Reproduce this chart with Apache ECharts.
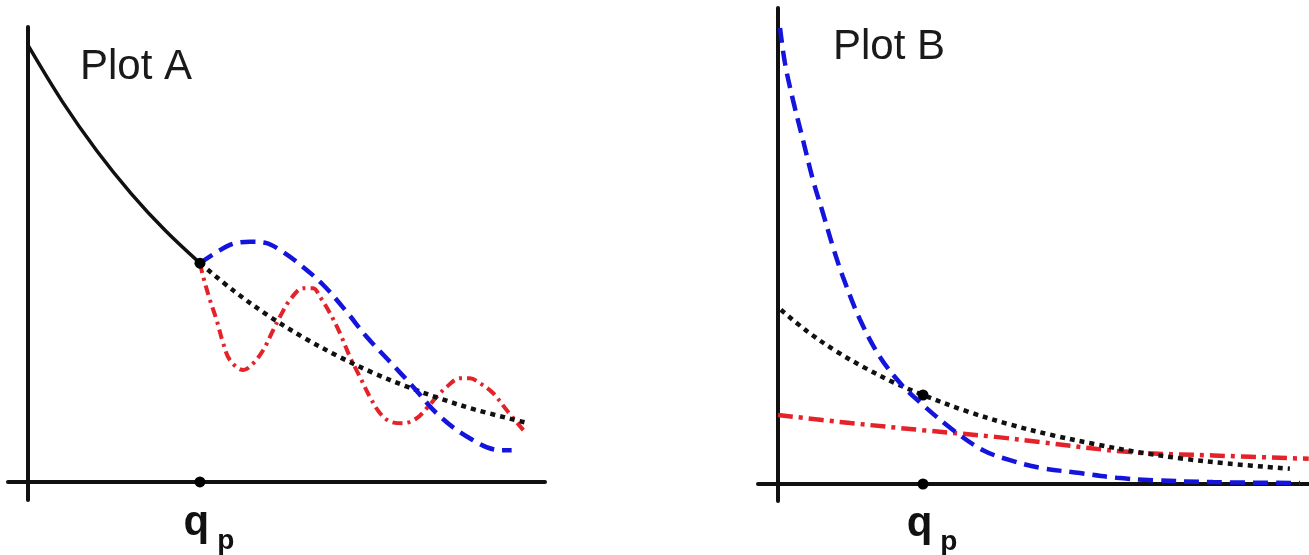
<!DOCTYPE html>
<html>
<head>
<meta charset="utf-8">
<script src="https://cdn.jsdelivr.net/npm/echarts@6/dist/echarts.min.js"></script>
<style>
  html, body { margin: 0; padding: 0; background: #fff; }
  #chart { width: 1309px; height: 555px; }
</style>
</head>
<body>
<div id="chart"></div>
<script>
// Plot A (x in units where q_p = 10)
const qp = 10;
const aSolid = [[0, 96], [2, 83.6], [4, 72.8], [6, 63.4], [8, 55.2], [10, 48.1]];
const aDotted = [[10, 48.1], [12, 41.9], [14, 36.5], [16, 31.8], [18, 27.7], [20, 24.1], [22, 21.0], [24, 18.3], [26, 15.9], [29, 13.0]];
const aBlue = [[10, 48.1], [11.74, 52.1], [12.91, 52.8], [13.88, 52.5], [14.65, 51.0], [15.62, 48.4], [17.17, 43.3],
  [18.53, 37.4], [19.69, 31.9], [21.05, 26.4], [22.4, 20.9], [23.76, 15.1], [25.51, 10.0], [27.44, 7.0], [28.12, 7.0]];
const aRed = [[10, 48.1], [10.19, 45.1], [10.58, 40.0], [10.97, 35.6], [11.35, 30.5], [11.74, 26.8], [12.52, 24.6],
  [13.1, 26.1], [13.68, 29.0], [14.26, 33.4], [14.65, 36.3], [15.23, 40.0], [16.01, 42.6], [16.59, 42.6], [16.98, 40.7],
  [17.56, 37.1], [18.14, 32.7], [18.72, 27.5], [19.3, 23.1], [19.88, 18.7], [20.47, 15.1], [21.05, 13.3], [21.82, 12.9],
  [22.6, 14.0], [23.18, 16.2], [23.76, 18.7], [24.34, 20.9], [25.12, 22.8], [25.7, 22.8], [26.28, 21.7], [27.05, 19.5],
  [27.83, 15.8], [28.8, 11.4]];
const aPoint = [10, 48.1];

// Plot B
const bBlue = [[0.14, 95.8], [0.48, 88.4], [1.03, 80.7], [1.72, 72.3], [2.41, 63.9], [3.1, 56.9], [3.79, 49.8],
  [4.48, 43.5], [5.66, 34.5], [7.03, 26.7], [8.6, 20.6], [10, 16.6], [12, 11.5], [14.14, 7.1], [16, 5.0], [18.07, 3.4],
  [20.83, 2.3], [23.38, 1.3], [25.86, 0.8], [30, 0.4], [36, 0.2]];
const bDotted = [[0.2, 36.6], [2, 32.1], [4, 27.9], [6, 24.4], [8, 21.3], [10, 18.7], [13, 15.3], [16, 12.5], [19, 10.2],
  [22, 8.3], [25, 6.6], [28, 5.3], [31, 4.3], [35.3, 3.2]];
const bRed = [[0, 14.5], [5, 12.8], [10, 11.3], [15, 9.9], [18.07, 8.8], [24.3, 6.7], [30, 6.0], [36.6, 5.3]];
const bPoint = [10, 18.7];

const BLACK = '#111111';
const BLUE = '#1414dc';
const RED = '#e4222a';

const chart = echarts.init(document.getElementById('chart'));

function axisPair(idx, xMin, xMax, yMin) {
  return {
    x: {
      type: 'value', gridIndex: idx, min: xMin, max: xMax,
      axisLine: { onZero: true, lineStyle: { color: BLACK, width: 4 } },
      axisTick: { show: false },
      splitLine: { show: false },
      axisLabel: {
        customValues: [qp],
        margin: 2,
        formatter: () => '{q|q}{p|p}',
        rich: {
          q: { fontFamily: 'Liberation Sans', fontWeight: 'bold', fontSize: 42, lineHeight: 42, color: BLACK,
               verticalAlign: 'top', padding: [0, 0, 0, 18] },
          p: { fontFamily: 'Liberation Sans', fontWeight: 'bold', fontSize: 28, lineHeight: 53, color: BLACK,
               verticalAlign: 'bottom', padding: [0, 0, 0, 8] }
        }
      }
    },
    y: {
      type: 'value', gridIndex: idx, min: yMin, max: 100,
      axisLine: { onZero: true, lineStyle: { color: BLACK, width: 4 } },
      axisTick: { show: false },
      splitLine: { show: false },
      axisLabel: { show: false }
    }
  };
}

const A = axisPair(0, -1.16, 30.06, -3.96);
const B = axisPair(1, -1.38, 36.62, -3.57);

function line(idx, data, color, width, type, z) {
  return {
    type: 'line', xAxisIndex: idx, yAxisIndex: idx, data: data,
    smooth: 0.35, showSymbol: false, silent: true, z: z,
    lineStyle: { color: color, width: width, type: type }
  };
}

function dots(idx, data) {
  return {
    type: 'scatter', xAxisIndex: idx, yAxisIndex: idx, data: data,
    symbolSize: 11, itemStyle: { color: '#000', opacity: 1 }, silent: true, z: 10
  };
}

chart.setOption({
  animation: false,
  backgroundColor: '#ffffff',
  title: [
    { text: 'Plot A', left: 75, top: 41, textStyle: { fontFamily: 'Liberation Sans', fontWeight: 'normal', fontSize: 42, color: '#1a1a1a' } },
    { text: 'Plot B', left: 828, top: 21, textStyle: { fontFamily: 'Liberation Sans', fontWeight: 'normal', fontSize: 42, color: '#1a1a1a' } }
  ],
  grid: [
    { left: 8, right: 764, top: 27, bottom: 55, outerBoundsMode: 'none' },
    { left: 758, right: 0, top: 8, bottom: 54, outerBoundsMode: 'none' }
  ],
  xAxis: [A.x, B.x],
  yAxis: [A.y, B.y],
  series: [
    line(0, aRed, RED, 4, [10, 5, 3, 5], 2),
    line(0, aDotted, BLACK, 4.5, [5, 5], 3),
    line(0, aBlue, BLUE, 4.5, [15, 8], 4),
    line(0, aSolid, BLACK, 3.5, 'solid', 5),
    dots(0, [aPoint, [qp, 0]]),
    line(1, bRed, RED, 4.5, [15, 6, 4, 6], 2),
    line(1, bDotted, BLACK, 4.5, [5, 5], 3),
    line(1, bBlue, BLUE, 4.5, [15, 8], 4),
    dots(1, [bPoint, [qp, 0]])
  ]
});
</script>
</body>
</html>
